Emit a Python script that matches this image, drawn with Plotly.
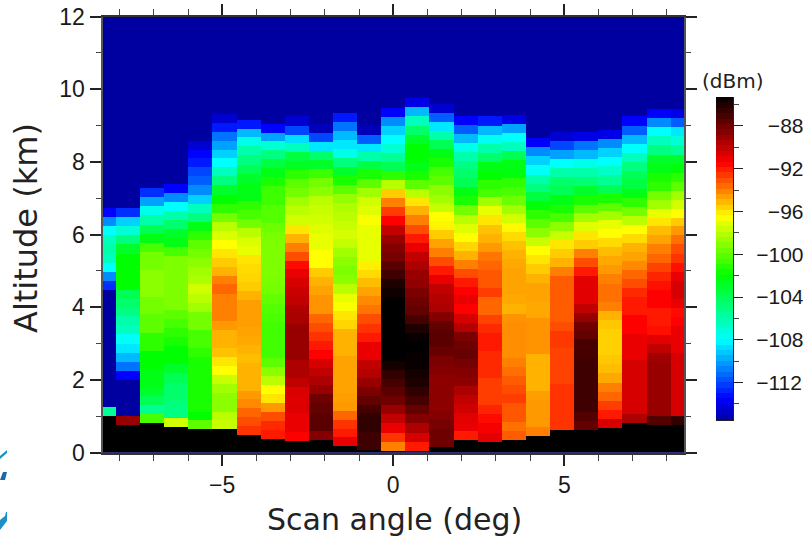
import numpy as np
import plotly.graph_objects as go

W, H = 803, 537
PL, PR, PT, PB = 102.5, 684.0, 16.5, 452.7

Z_MIN, Z_MAX = -115.5, -85.3
COLOR_DB = [-115.5, -113.5, -108, -102, -96.5, -91.5, -85.3]
COLOR_RGB = ["rgb(0,0,160)", "rgb(0,0,255)", "rgb(0,255,255)", "rgb(0,255,0)",
             "rgb(255,255,0)", "rgb(255,0,0)", "rgb(0,0,0)"]

scan_angle = [-8.46, -7.755, -7.05, -6.345, -5.64, -4.935, -4.23, -3.525, -2.82, -2.115, -1.41, -0.705, 0.0,
              0.705, 1.41, 2.115, 2.82, 3.525, 4.23, 4.935, 5.64, 6.345, 7.05, 7.755, 8.46]
ground_km = [1.01, .76, .81, .69, .64, .64, .47, .37, .32, .35, .165, .07, .05,
             .06, .16, .34, .31, .36, .46, .63, .63, .68, .80, .75, .75]
ROW_KM = 0.2483

# Received power per scan column, bottom row upward (dBm)
col00 = [-105.5, -115.5, -115.5, -115.5, -115.5, -115.5, -115.5, -115.5, -115.5, -115.5, -115.5, -115.5, -115.5, -115.5,
         -112.5, -110.5, -108, -106.5, -106, -106.5, -108, -110.5, -113.5]
col01 = [-89, -115.5, -115.5, -115.5, -115.5, -113.5, -111, -109.5, -108.5, -107.8, -106.5, -106, -105, -104.5, -104, -102, -102, -102, -102, -103, -105, -107, -109, -112.5]
col02 = [-100.5, -105.5, -104, -103, -102.5, -102.5, -102, -102, -101, -101, -100, -100, -99.5, -99.5, -99, -99, -99, -99.5, -99.5, -100.5, -102.5, -104, -106, -107.5, -110, -112.5]
col03 = [-97.5, -105, -105, -104.5, -104.5, -104, -103, -102, -102, -101.5, -101, -100.5, -100, -99.3, -99.3, -99.3, -99.3, -99.3, -99.3, -100.5, -102.5, -103, -104.5, -106, -108, -110.5, -113.5]
col04 = [-100, -102, -101.5, -101.5, -101.5, -101.5, -101.5, -101.5, -101, -100.5, -100.5, -99.5, -99.5, -98.5, -98, -97.5, -98.3, -98.5, -99, -99.5, -100, -101, -102.5, -105, -106.5, -109, -110.5, -111.5, -112, -113, -113.5, -114.5]
col05 = [-97.7, -98, -99, -99, -98.5, -97.7, -96.5, -96, -95.3, -95, -95, -94.5, -94, -94, -94, -93.5, -94, -95, -95.5, -96, -96.5, -97.3, -98, -99.5, -101, -102, -103, -105, -106.5, -108, -109, -110, -111, -113, -114.5]
col06 = [-92.5, -93, -93.5, -94.2, -94.5, -95, -95, -95, -95.2, -95, -94.8, -94.7, -94.6, -94.6, -94.6, -95, -95.5, -95.7, -95.8, -96, -97, -97.3, -98, -99.5, -100.5, -101, -102.5, -102.5, -103, -104, -105, -106, -107.5, -109.5, -113]
col07 = [-92, -92.3, -93, -94.5, -96, -96.5, -98, -99, -100, -100.6, -100.6, -100.6, -100.6, -100.4, -100.2, -99.9, -99.5, -99.4, -99.3, -99.3, -99.3, -99.3, -99.4, -99.7, -100.2, -100.2, -100.7, -100.7, -101.5, -102.5, -103.5, -105, -107, -110, -113.5]
col08 = [-91.5, -91, -91, -90.7, -90.7, -90.6, -90, -89.5, -89.5, -89, -89, -89, -89, -89.4, -89.5, -90, -90.2, -90.5, -91, -91.7, -93, -94, -95, -96, -97.5, -98, -98.5, -99.5, -100, -101, -102.8, -103.5, -106.5, -108.7, -112, -114.5]
col09 = [-88.5, -87.5, -87.5, -87.7, -88, -89, -89.5, -90, -90.5, -91.5, -92, -92.5, -93, -93.5, -94.4, -94.4, -94.7, -95, -95.5, -96.5, -96.5, -97, -97, -97.2, -97.5, -97.7, -98, -99, -99.5, -100.7, -103, -104.5, -108.5, -112, -115]
col10 = [-91, -92, -92.5, -93.5, -94.5, -94.6, -94.7, -94.7, -94.7, -94.7, -95, -95, -95, -95.7, -96, -96.6, -97, -98, -99, -99.3, -99, -98.5, -97.8, -97.4, -97.7, -98, -98.2, -98.8, -100, -101.5, -103, -105, -107.5, -108.5, -109.5, -111, -113]
col11 = [-86.8, -86.8, -86.5, -86.5, -87, -87.7, -88.3, -89, -89.7, -90, -91, -91, -92, -92.5, -93, -93.8, -94.2, -94.7, -95.2, -95.8, -96.2, -97, -97, -97, -97, -96.6, -97.2, -97.5, -98.5, -100, -101.5, -103.5, -106, -108.5, -111.5, -115]
col12 = [-94, -92.5, -91, -90, -89, -88, -87.5, -87, -86.5, -85.8, -85.3, -85.3, -85.3, -85.3, -85.3, -85.3, -85.3, -85.7, -86, -86.8, -87.5, -88.2, -88.5, -89, -90, -91.5, -92.7, -94, -95.5, -98, -101, -104, -105.5, -107, -108, -109, -110.5, -113.5]
col13 = [-92, -90.5, -89.5, -88.5, -87.7, -87, -86.5, -86, -85.8, -85.5, -85.5, -85.3, -85.5, -86, -87, -87.7, -88, -88.3, -88.8, -89, -89.5, -90, -91, -92, -93, -94, -95, -96, -98, -100, -101.5, -102.5, -102, -102, -103, -104.5, -106.5, -109.5, -114]
col14 = [-88, -88, -88.2, -88.5, -88.7, -88.7, -88.7, -88.7, -88.5, -88.3, -87.8, -87.5, -87.5, -87.7, -88.5, -89.5, -89.7, -90, -91, -92, -93, -94, -94.7, -95.5, -96.3, -96.5, -97.8, -98.5, -99, -100, -100.5, -101.5, -102.5, -104, -106, -108.5, -111.5, -114.5]
col15 = [-92, -91, -90.8, -90.3, -90, -89.5, -88.7, -88.5, -88.2, -87.8, -88, -88.3, -89.7, -90.5, -91.5, -91, -91.5, -92, -93, -94, -95, -95.7, -96.5, -97.2, -98, -99.5, -101.5, -102.5, -104, -104.5, -105, -106, -107.5, -109.5, -111.5, -113.5]
col16 = [-90.8, -91.3, -91.7, -92.2, -92.7, -92.7, -92.7, -92.3, -92.3, -92.3, -92, -92, -92.3, -92.8, -93.5, -93.5, -92.7, -93.2, -93.2, -93.5, -93.8, -94.5, -95, -95.3, -96, -97, -98.5, -100.5, -101, -102, -102.5, -104.5, -106, -107.7, -109.5, -113]
col17 = [-93.3, -93.7, -93.2, -93.2, -92.7, -93, -93.3, -93.7, -94, -94.3, -94.3, -94.3, -94.3, -94.4, -95, -94.8, -94.7, -94.7, -94.7, -94.8, -95, -95.3, -95.8, -96.4, -97.5, -98.5, -99.7, -100.5, -101, -102.3, -102.5, -104, -106.5, -108, -110, -114]
col18 = [-94, -94.5, -94.5, -94.5, -94.6, -95, -95, -95, -95, -94.4, -94.4, -94.4, -94.4, -94.8, -94.8, -94.7, -94.7, -95, -95.5, -96, -96.5, -97.7, -99, -100, -101, -102.2, -103.5, -105, -106, -107.8, -109, -110.5, -113.5]
col19 = [-92.5, -92.5, -92.5, -92.5, -92.5, -92.8, -92.8, -92.8, -92.8, -92.6, -92.6, -93, -93.3, -93.3, -93.3, -93.3, -93.3, -94, -95, -95.5, -96, -97.7, -99, -100.5, -101.5, -102.5, -104, -104.5, -106, -108, -110, -112, -114.5]
col20 = [-87.7, -87.3, -86.8, -86.8, -86.8, -86.8, -86.8, -86.8, -87, -87, -87.7, -88, -89, -90, -90.8, -90.8, -90.8, -92, -93, -94, -95.5, -96, -97.2, -98.5, -100, -101.5, -103, -104.8, -106, -107.5, -109.5, -111, -114]
col21 = [-90.5, -92, -92.7, -93.5, -94, -94.8, -95.2, -95.4, -95.6, -95.6, -95.6, -95.4, -95, -94, -93.7, -93.7, -94, -94.5, -94.8, -95.2, -95.8, -96.5, -97, -98.5, -100, -101.5, -104, -105.5, -106.7, -108, -109, -110.5, -114]
col22 = [-89.5, -90.5, -90.5, -90.5, -90.5, -90.5, -90.5, -91, -91, -91, -91.5, -91.5, -92, -92, -92.3, -93, -93.5, -94.2, -94.7, -95, -95.8, -96.5, -98, -99.5, -101, -102.5, -103.5, -104, -105, -106.5, -108, -109.5, -111.5, -113.5]
col23 = [-87.3, -89, -89, -89, -89, -89, -89, -89.2, -90, -90.8, -91.8, -92, -92, -91.5, -91.5, -91.8, -92.2, -92.8, -93.5, -94, -94.7, -95.2, -96, -97, -98.5, -99.5, -101, -101.5, -102.5, -103, -105, -106.5, -108, -110.5, -113.5]
col24 = [-86.5, -90.5, -90.5, -90.5, -90.5, -90.5, -90.5, -90.5, -91, -91, -91, -91.5, -91.7, -91, -90.5, -90.5, -91, -91.8, -92.5, -93, -93.7, -94.5, -95.5, -96.5, -97.5, -98.5, -100, -101, -102.2, -103, -105.5, -107, -108.5, -111.5, -114]
columns = [col00, col01, col02, col03, col04, col05, col06, col07, col08, col09, col10, col11, col12,
           col13, col14, col15, col16, col17, col18, col19, col20, col21, col22, col23, col24]

altitude_ticks = [0, 2, 4, 6, 8, 10, 12]
angle_ticks = [-5, 0, 5]
angle_labels = ["\u22125", "0", "5"]
power_ticks = [-112, -108, -104, -100, -96, -92, -88]
power_labels = ["\u2212112", "\u2212108", "\u2212104", "\u2212100",
                "\u2007\u221296", "\u2007\u221292", "\u2007\u221288"]

# Grid assembly: each column keeps its own terrain-following rows.
y_edges = np.arange(0, 12.0001, 0.025)
y_mid = (y_edges[:-1] + y_edges[1:]) / 2
centers = np.array(scan_angle)
x_edges = np.concatenate([[centers[0] - 0.3525], (centers[:-1] + centers[1:]) / 2, [centers[-1] + 0.3525]])
z = np.full((len(y_mid), len(columns)), Z_MIN)
for j, col in enumerate(columns):
    vals = np.array(col, dtype=float)
    base = ground_km[j]
    idx = np.floor((y_mid - base) / ROW_KM).astype(int)
    inside = (idx >= 0) & (idx < len(vals))
    z[inside, j] = vals[idx[inside]]
    z[y_mid < base, j] = Z_MAX

colorscale = [[(d - Z_MIN) / (Z_MAX - Z_MIN), c] for d, c in zip(COLOR_DB, COLOR_RGB)]

TICK = dict(family="Liberation Sans", size=23, color="#1a1a1a")
TITLE_X = dict(family="DejaVu Sans", size=30, color="#222")
TITLE_Y = dict(family="DejaVu Sans", size=32, color="#222")

fig = go.Figure()
fig.add_trace(go.Heatmap(x=x_edges, y=y_edges, z=z, zmin=Z_MIN, zmax=Z_MAX, colorscale=colorscale,
                         showscale=False, xaxis="x", yaxis="y",
                         hovertemplate="%{x:.2f}\u00b0 %{y:.2f} km %{z:.1f} dBm<extra></extra>"))
bar_vals = np.linspace(Z_MIN, Z_MAX, 61)
fig.add_trace(go.Heatmap(x=[0, 1], y=bar_vals, z=(bar_vals[:-1] + np.diff(bar_vals) / 2).reshape(-1, 1),
                         zmin=Z_MIN, zmax=Z_MAX, colorscale=colorscale, showscale=False,
                         xaxis="x2", yaxis="y2", hoverinfo="skip"))


def px_x(v):
    return v / W


def px_y(v):
    return 1 - v / H


fig.update_layout(
    width=W, height=H, autosize=False,
    margin=dict(l=0, r=0, t=0, b=0, pad=0),
    paper_bgcolor="white", plot_bgcolor="rgb(0,0,160)", showlegend=False,
    xaxis=dict(domain=[px_x(PL), px_x(PR)], anchor="y", range=[-8.5, 8.5], tickmode="array", automargin=False,
               tickvals=angle_ticks, ticktext=angle_labels, ticks="outside", ticklen=11, tickwidth=2,
               tickcolor="#222", showline=True, linecolor="#333", linewidth=2, mirror="ticks",
               showgrid=False, zeroline=False, tickfont=TICK,
               minor=dict(dtick=1, tick0=0, ticks="outside", ticklen=6, tickwidth=1, tickcolor="#444", showgrid=False)),
    yaxis=dict(domain=[px_y(PB), px_y(PT)], anchor="x", range=[0, 12], tickmode="array", automargin=False,
               tickvals=altitude_ticks, ticks="outside", ticklen=11, tickwidth=2, tickcolor="#222",
               showline=True, linecolor="#555", linewidth=2, mirror="ticks", showgrid=False, zeroline=False,
               tickfont=TICK,
               minor=dict(dtick=1, tick0=0, ticks="outside", ticklen=5, tickwidth=1, tickcolor="#444", showgrid=False)),
    xaxis2=dict(domain=[px_x(716), px_x(733)], anchor="y2", range=[0, 1], showticklabels=False, ticks="",
                automargin=False, showgrid=False, zeroline=False, showline=True, linecolor="#222", linewidth=1),
    yaxis2=dict(domain=[px_y(420), px_y(97)], anchor="x2", side="right", range=[Z_MIN, Z_MAX], tickmode="array",
                tickvals=power_ticks, ticktext=power_labels, ticks="outside", ticklen=9, tickwidth=1, automargin=False,
                tickcolor="#222", ticklabelstandoff=9, showline=True, linecolor="#222", linewidth=1, showgrid=False,
                zeroline=False, tickfont=dict(family="Liberation Sans", size=21, color="#1a1a1a"),
                minor=dict(dtick=2, tick0=-88, ticks="outside", ticklen=5, tickwidth=1, tickcolor="#444", showgrid=False)),
    annotations=[
        dict(text="(dBm)", x=px_x(733), y=px_y(81), xref="paper", yref="paper", showarrow=False,
             xanchor="center", yanchor="middle", font=dict(family="DejaVu Sans", size=20, color="#222")),
        dict(text="Scan angle (deg)", x=px_x(394), y=px_y(519), xref="paper", yref="paper", showarrow=False,
             xanchor="center", yanchor="middle", font=TITLE_X),
        dict(text="Altitude (km)", x=px_x(26), y=px_y(228), xref="paper", yref="paper", showarrow=False,
             textangle=-90, xanchor="center", yanchor="middle", font=TITLE_Y),
    ],
)

# Cut-off logo at the lower-left edge of the page.
LOGO = [("#1b8fc6", [(0, 456), (7, 450), (7, 453), (0, 459)]),
        ("#1a6aa8", [(0, 480), (3, 472), (7, 472), (5, 480)]),
        ("#1b8fc6", [(0, 520), (5, 516), (6, 512), (7, 512), (7, 521), (0, 530)])]
for color, pts in LOGO:
    path = "M " + " L ".join(f"{px_x(a)},{px_y(b)}" for a, b in pts) + " Z"
    fig.add_shape(type="path", path=path, xref="paper", yref="paper", fillcolor=color, line_width=0, layer="above")

fig.write_html("out.html", config={"displayModeBar": False},
               post_script="document.body.style.margin='0';document.body.style.overflow='hidden';")
